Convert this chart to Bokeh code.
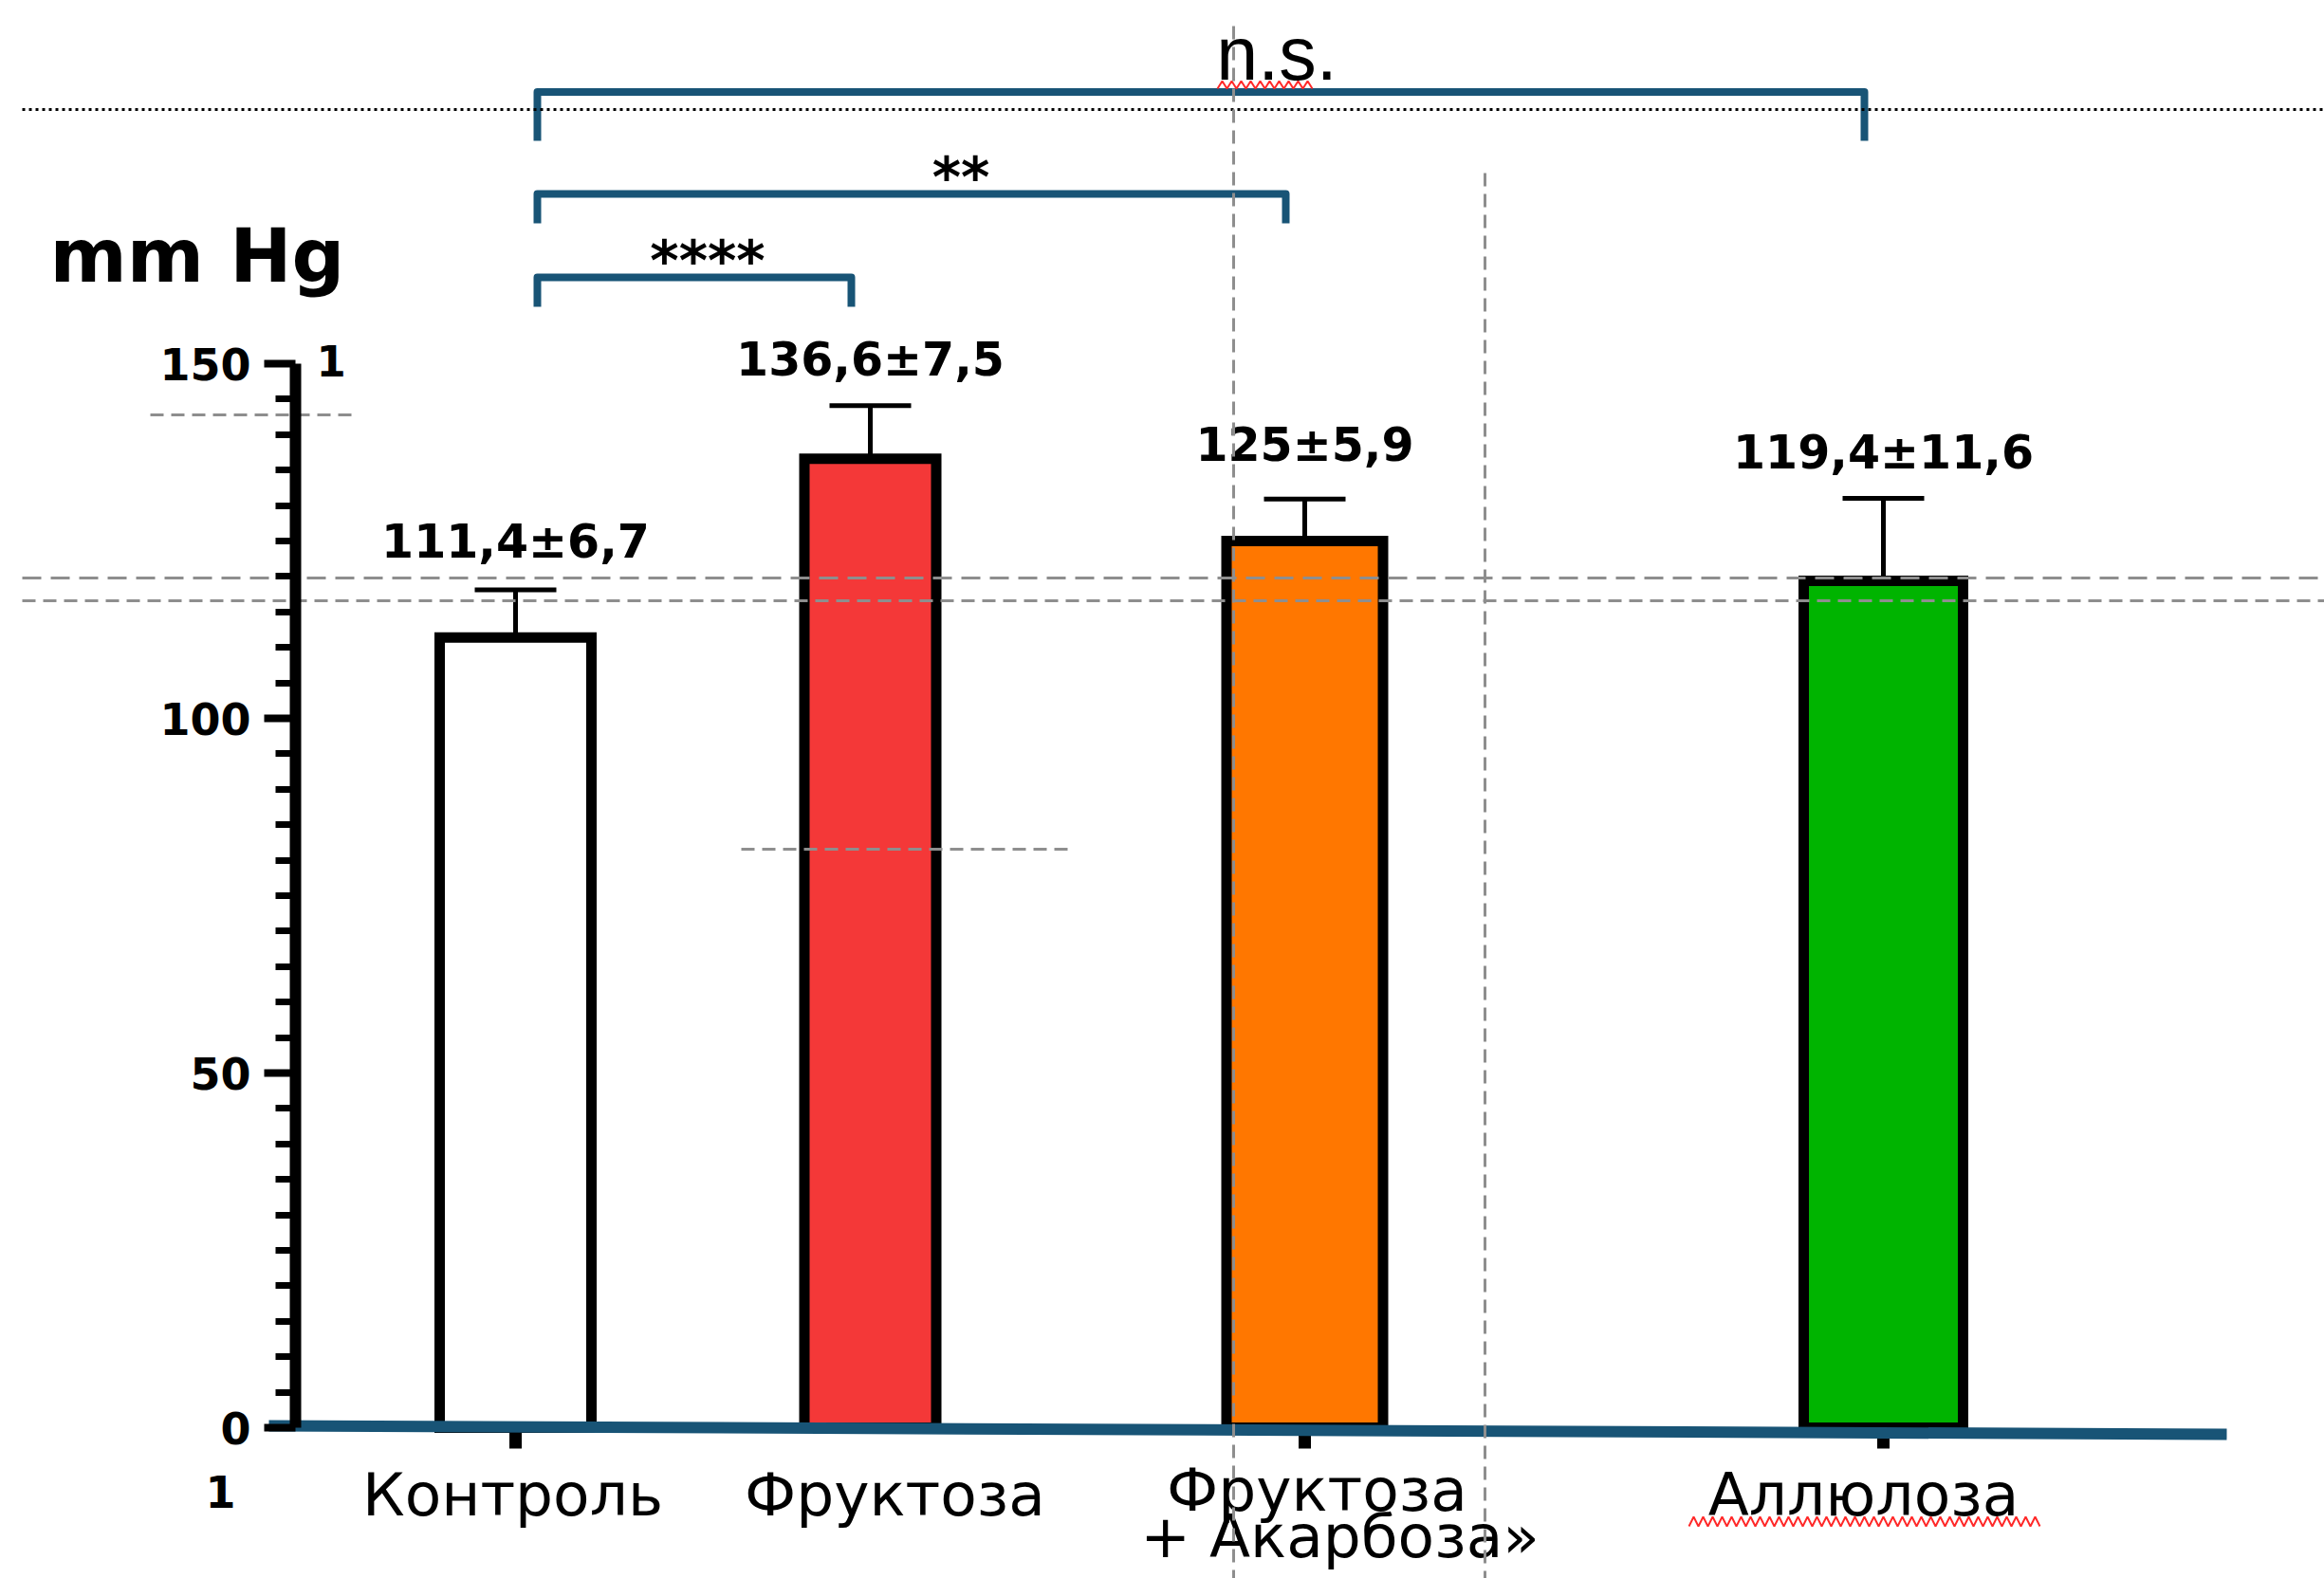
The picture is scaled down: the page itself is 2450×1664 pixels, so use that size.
import numpy as np
from bokeh.plotting import figure
from bokeh.models import Range1d, LinearAxis, FixedTicker, ColumnDataSource
from bokeh.core.properties import value
from bokeh.embed import file_html
from bokeh.resources import INLINE

# ---------------- data ----------------
categories = ["Контроль", "Фруктоза", "Фруктоза\n+ Акарбоза»", "Аллюлоза"]
means = [111.4, 136.6, 125.0, 119.4]
sds = [6.7, 7.5, 5.9, 11.6]
value_labels = ["111,4±6,7", "136,6±7,5", "125±5,9", "119,4±11,6"]
y_ticks = [0, 50, 100, 150]
y_unit = "mm Hg"
comparisons = [
    ("Контроль", "Фруктоза", "****"),
    ("Контроль", "Фруктоза\n+ Акарбоза»", "**"),
    ("Контроль", "Аллюлоза", "n.s."),
]
ticked = ["Контроль", "Фруктоза\n+ Акарбоза»", "Аллюлоза"]

# ---------------- layout / style ----------------
W, H = 2450, 1664
Y0 = 1505          # pixel row of value 0
PPU = 7.48         # pixels per mm Hg
AXIS_X = 311
bar_colors = ["#ffffff", "#f43838", "#ff7700", "#00b400"]
x_pos = [543, 917, 1375, 1985]
bar_w = [160, 139, 165, 168]
label_dx = [-3, 26, 13, -21]
value_gap = [36, 33, 42, 33]
BLUE = "#185476"
GRAY = "#8e8e8e"
KB = 0.3           # baseline correction (fraction of font size)


def vy(py):
    return (Y0 - py) / PPU


def tb(py, fs):
    """data y for a text whose visual baseline should sit at pixel row py"""
    return vy(py - KB * fs)


p = figure(width=W, height=H, x_range=Range1d(0, W),
           y_range=Range1d(vy(H), vy(0)),
           x_axis_type=None, y_axis_type=None, toolbar_location=None,
           output_backend="svg", min_border=0, outline_line_color=None)
p.background_fill_color = "white"
p.border_fill_color = "white"

yax = LinearAxis(fixed_location=AXIS_X, bounds=(0, 150),
                 ticker=FixedTicker(ticks=y_ticks,
                                    minor_ticks=[t for t in range(0, 151, 5) if t % 50]))
yax.axis_line_width = 12
yax.axis_line_color = "black"
yax.major_tick_out = 33
yax.major_tick_in = 0
yax.major_tick_line_width = 8
yax.minor_tick_out = 21
yax.minor_tick_in = 0
yax.minor_tick_line_width = 7
yax.major_label_text_font = "DejaVu Sans"
yax.major_label_text_font_style = "bold"
yax.major_label_text_font_size = "46px"
yax.major_label_standoff = 14
yax.major_label_text_color = "black"
p.add_layout(yax, "left")

tops = [m + s for m, s in zip(means, sds)]
src = ColumnDataSource(dict(x=x_pos, top=means, w=bar_w, color=bar_colors,
                            etop=tops, cl=[x - 43 for x in x_pos],
                            cr=[x + 43 for x in x_pos]))

# category tick marks (below baseline)
tx = [x_pos[categories.index(c)] for c in ticked]
p.segment(x0=tx, y0=[vy(1505)] * len(tx), x1=tx, y1=[vy(1527)] * len(tx),
          line_width=13, line_color="black")

# error bars
p.segment(x0="x", y0="top", x1="x", y1="etop", source=src, line_width=5, line_color="black")
p.segment(x0="cl", y0="etop", x1="cr", y1="etop", source=src, line_width=5, line_color="black")

# bars
p.vbar(x="x", top="top", bottom=0, width="w", source=src, fill_color="color",
       line_color="black", line_width=11, line_join="miter")

# blue baseline
p.line(x=[283, 2347], y=[vy(1503), vy(1512)], line_width=12, line_color=BLUE)

# value labels
VFS = 49
p.text(x=x_pos, y=[vy(Y0 - t * PPU - g - KB * VFS) for t, g in zip(tops, value_gap)],
       text=value_labels,
       text_font=value("DejaVu Sans"), text_font_style="bold", text_font_size=f"{VFS}px",
       text_align="center", text_baseline="alphabetic", text_color="black")

# category labels
CFS = 63
for c, x, dx in zip(categories, x_pos, label_dx):
    lines = c.split("\n")
    bases = [1595] if len(lines) == 1 else [1590, 1639]
    for k, (line, b) in enumerate(zip(lines, bases)):
        p.text(x=[x + dx + 24 * k], y=[tb(b, CFS)], text=[line],
               text_font=value("DejaVu Sans"), text_font_size=f"{CFS}px",
               text_align="center", text_baseline="alphabetic", text_color="black")

# unit label and stray glyphs
p.text(x=[52], y=[tb(293, 78)], text=[y_unit], text_font=value("DejaVu Sans"),
       text_font_style="bold", text_font_size="78px", text_align="left",
       text_baseline="alphabetic", text_color="black")
p.text(x=[333], y=[tb(393, 45)], text=["1"], text_font=value("DejaVu Sans"),
       text_font_style="bold", text_font_size="45px", text_align="left",
       text_baseline="alphabetic", text_color="black")
p.text(x=[216], y=[tb(1586, 46)], text=["1"], text_font=value("DejaVu Sans"),
       text_font_style="bold", text_font_size="46px", text_align="left",
       text_baseline="alphabetic", text_color="black")

# significance brackets
levels = [292, 204, 96.5]
leg_bottom = [323, 235, 148]
lab_dx = [14, 52, 80]
lab_base = [292, 204, 80]
for (a, b, lab), yt, yb, ldx, lb in zip(comparisons, levels, leg_bottom, lab_dx, lab_base):
    xl = x_pos[categories.index(a)] + 23
    xr = x_pos[categories.index(b)] - 20
    p.multi_line(xs=[[xl, xl, xr, xr]], ys=[[vy(yb), vy(yt), vy(yt), vy(yb)]],
                 line_width=8, line_color=BLUE, line_join="round")
    if lab == "n.s.":
        p.text(x=[(xl + xr) / 2 + ldx], y=[tb(lb, 79)], text=[lab],
               text_font=value("Liberation Sans"), text_font_size="79px",
               text_align="center", text_baseline="alphabetic", text_color="black")
    else:
        p.text(x=[(xl + xr) / 2 + ldx], y=[tb(lb, 58)], text=[lab],
               text_font=value("DejaVu Sans"), text_font_style="bold",
               text_font_size="58px", text_align="center",
               text_baseline="alphabetic", text_color="black")

# spell-check squiggles
for x0, x1, ytop, ybot in [(1283, 1387, 85, 93), (1780, 2153, 1599, 1609)]:
    xs = np.arange(x0, x1 + 1, 5)
    ys = [vy(ytop) if i % 2 else vy(ybot) for i in range(len(xs))]
    p.line(x=xs, y=ys, line_color="#ff2a2a", line_width=2)

# guide lines (slide artefacts)
p.line(x=[23, 2450], y=[vy(115), vy(115)], line_color="black", line_width=3, line_dash="3 4")
p.line(x=[23, 2450], y=[vy(609), vy(609)], line_color=GRAY, line_width=3, line_dash="20 10")
p.line(x=[23, 2450], y=[vy(633), vy(633)], line_color=GRAY, line_width=3, line_dash="14 8")
p.line(x=[158, 370], y=[vy(437), vy(437)], line_color=GRAY, line_width=3, line_dash="14 8")
p.line(x=[781, 1125], y=[vy(895), vy(895)], line_color=GRAY, line_width=3, line_dash="14 8")
p.line(x=[1300, 1300], y=[vy(27), vy(1664)], line_color=GRAY, line_width=3, line_dash="14 8")
p.line(x=[1565, 1565], y=[vy(182), vy(1664)], line_color=GRAY, line_width=3, line_dash="14 8")

open("out.html", "w").write(file_html(p, INLINE))
